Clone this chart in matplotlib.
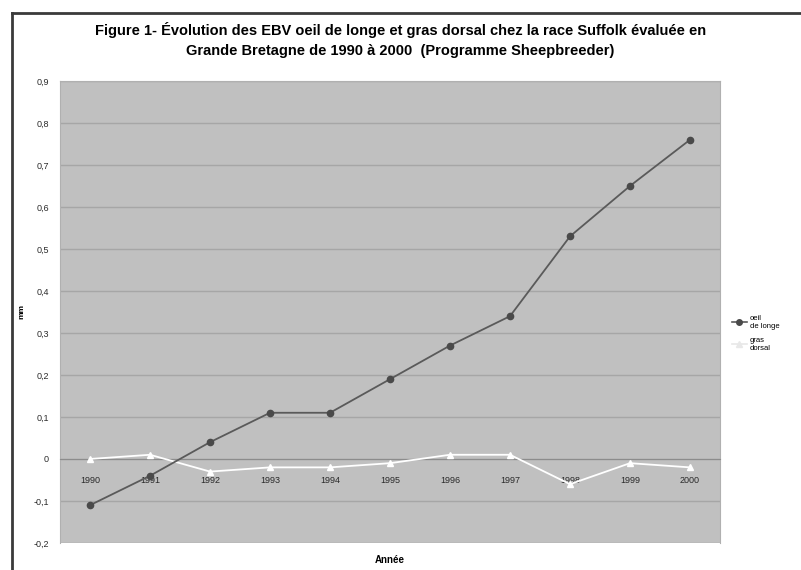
import matplotlib
matplotlib.use("Agg")
import matplotlib.pyplot as plt
from matplotlib.lines import Line2D

years = ["1990", "1991", "1992", "1993", "1994", "1995", "1996", "1997", "1998", "1999", "2000"]
oeil_de_longe = [-0.11, -0.04, 0.04, 0.11, 0.11, 0.19, 0.27, 0.34, 0.53, 0.65, 0.76]
gras_dorsal = [0.00, 0.01, -0.03, -0.02, -0.02, -0.01, 0.01, 0.01, -0.06, -0.01, -0.02]
y_ticks = [-0.2, -0.1, 0.0, 0.1, 0.2, 0.3, 0.4, 0.5, 0.6, 0.7, 0.8, 0.9]
y_tick_labels = ["-0,2", "-0,1", "0", "0,1", "0,2", "0,3", "0,4", "0,5", "0,6", "0,7", "0,8", "0,9"]

title = ("Figure 1- Évolution des EBV oeil de longe et gras dorsal chez la race Suffolk évaluée en\n"
         "Grande Bretagne de 1990 à 2000  (Programme Sheepbreeder)")

plt.rcParams['font.family'] = ['Liberation Sans', 'DejaVu Sans']

fig = plt.figure(figsize=(8.01, 5.70), dpi=100)
ax = fig.add_axes([0.0749, 0.0474, 0.8240, 0.8106])

# Category axis crosses the value axis at zero (set before styling the ticks)
ax.spines['bottom'].set_position(('data', 0))
ax.spines['bottom'].set_color("#8c8c8c")
for side in ("left", "right", "top"):
    ax.spines[side].set_color("#b0b0b0")

x = list(range(len(years)))
ax.set_facecolor("#c0c0c0")
ax.set_xlim(-0.5, len(years) - 0.5)
ax.set_ylim(-0.2, 0.9)

ax.set_yticks(y_ticks)
ax.set_yticklabels(y_tick_labels, fontsize=6.5, color="#2a2a2a")
ax.yaxis.grid(True, color="#a6a6a6", linewidth=1.0)
ax.set_axisbelow(True)
ax.tick_params(axis="y", length=0, pad=8)

ax.set_xticks(x)
ax.set_xticklabels(years, fontsize=6.5, color="#2a2a2a")
ax.tick_params(axis="x", length=0, pad=12)

ax.plot(x, oeil_de_longe, color="#5a5a5a", linewidth=1.3, marker="o",
        markersize=4.5, markerfacecolor="#4a4a4a", markeredgecolor="#4a4a4a", zorder=4)
ax.plot(x, gras_dorsal, color="#ffffff", linewidth=1.3, marker="^",
        markersize=4.5, markerfacecolor="#ffffff", markeredgecolor="#ffffff", zorder=3)

ax.set_ylabel("mm", fontsize=6, fontweight="bold", labelpad=6)

fig.text(0.487, 0.018, "Année", ha="center", va="center",
         fontsize=7, fontweight="bold")
fig.text(0.5, 0.929, title, ha="center", va="center", fontsize=10.5,
         fontweight="bold", linespacing=1.55)

handles = [
    Line2D([0], [0], color="#5a5a5a", linewidth=1.2, marker="o", markersize=4,
           markerfacecolor="#4a4a4a", markeredgecolor="#4a4a4a"),
    Line2D([0], [0], color="#e8e8e8", linewidth=1.2, marker="^", markersize=4,
           markerfacecolor="#e8e8e8", markeredgecolor="#e8e8e8"),
]
fig.legend(handles, ["oeil\nde longe", "gras\ndorsal"], loc="center left",
           bbox_to_anchor=(0.905, 0.415), frameon=False, fontsize=5.5,
           handlelength=2.0, handletextpad=0.4, labelspacing=0.9)

# Frame lines along the top and left edges of the figure
fig.add_artist(Line2D([0.015, 0.015], [0.0, 0.978], transform=fig.transFigure,
                      color="#3a3a3a", linewidth=2))
fig.add_artist(Line2D([0.015, 1.0], [0.978, 0.978], transform=fig.transFigure,
                      color="#3a3a3a", linewidth=2))

fig.savefig("out.png", dpi=100, facecolor="white")
